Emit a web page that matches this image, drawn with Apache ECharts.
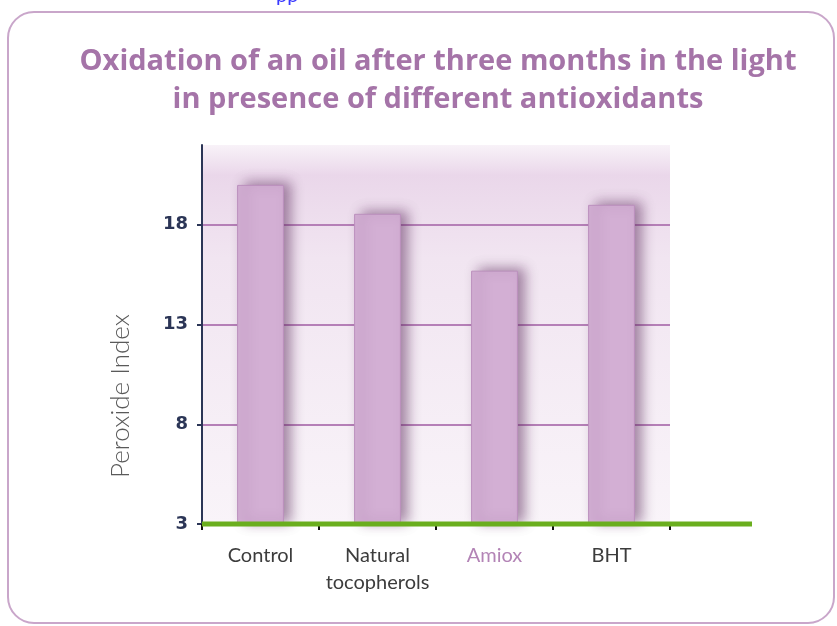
<!DOCTYPE html>
<html>
<head>
<meta charset="utf-8">
<script src="https://cdn.jsdelivr.net/npm/echarts@6/dist/echarts.min.js"></script>
<style>
  html, body { margin: 0; padding: 0; background: #fff; }
  #chart { width: 837px; height: 626px; }
</style>
</head>
<body>
<div id="chart"></div>
<script>
// data
const categories = ['Control', 'Natural\ntocopherols', 'Amiox', 'BHT'];
const peroxide = [20.0, 18.55, 15.7, 19.0];
const yTicks = [3, 8, 13, 18];

const purpleTitle = '#a574a8';
const barColor = '#d3afd4';

let myChart = echarts.init(document.getElementById('chart'));

let option = {
  backgroundColor: '#fff',
  animation: false,
  title: {
    text: 'Oxidation of an oil after three months in the light\nin presence of different antioxidants',
    left: 433,
    top: 38,
    textAlign: 'center',
    textStyle: {
      color: purpleTitle,
      fontFamily: 'Open Sans',
      fontWeight: 'bold',
      fontSize: 29,
      lineHeight: 38
    }
  },
  grid: {
    left: 202,
    right: 167,
    top: 145,
    bottom: 102,
    show: true,
    borderWidth: 0,
    backgroundColor: {
      type: 'linear', x: 0, y: 0, x2: 0, y2: 1,
      colorStops: [
        { offset: 0, color: '#f8f2f8' },
        { offset: 0.08, color: '#ead7ea' },
        { offset: 0.3, color: '#f1e5f1' },
        { offset: 1, color: '#f9f4f9' }
      ]
    }
  },
  xAxis: {
    type: 'category',
    data: categories,
    boundaryGap: true,
    axisLine: { show: false },
    axisTick: {
      show: true,
      interval: 0,
      length: 6,
      lineStyle: { color: '#111', width: 2 }
    },
    axisLabel: {
      interval: 0,
      hideOverlap: false,
      margin: 18,
      fontFamily: 'Lato',
      fontSize: 20,
      lineHeight: 27,
      color: function (v) {
        return v === 'Amiox' ? '#b384b6' : '#3c3c3c';
      }
    }
  },
  yAxis: {
    type: 'value',
    min: 3,
    max: 22,
    interval: 5,
    axisLine: { show: true, lineStyle: { color: '#2b3556', width: 2 } },
    axisTick: {
      show: true,
      length: 5,
      customValues: yTicks,
      lineStyle: { color: '#2b3556', width: 2 }
    },
    axisLabel: {
      margin: 14,
      customValues: yTicks,
      fontFamily: 'DejaVu Sans',
      fontWeight: 'bold',
      fontSize: 18,
      color: '#2b3556'
    },
    splitLine: {
      show: true,
      showMinLine: false,
      lineStyle: { color: '#b57fb7', width: 2 }
    }
  },
  series: [{
    type: 'bar',
    data: peroxide,
    barWidth: '40%',
    z: 3,
    itemStyle: {
      color: barColor,
      borderColor: '#bb90bd',
      borderWidth: 1,
      shadowColor: 'rgba(90,40,90,0.55)',
      shadowBlur: 12,
      shadowOffsetX: 7,
      shadowOffsetY: -2
    }
  }]
};
myChart.setOption(option);

// green baseline runs past the plot, plus frame and y-axis name
let p0 = myChart.convertToPixel({ xAxisIndex: 0, yAxisIndex: 0 }, [0, 3]);
let gridRect = myChart.getModel().getComponent('grid').coordinateSystem.getRect();
myChart.setOption({
  graphic: [
    {
      type: 'rect',
      shape: { x: 8, y: 12, width: 826, height: 611, r: 26 },
      style: { fill: 'none', stroke: '#c9a6ca', lineWidth: 2 },
      z: 0
    },
    {
      type: 'text',
      left: 276, top: -14,
      style: { text: 'pp', fill: '#3a3aff', font: '20px Lato' }
    },
    {
      type: 'line',
      shape: { x1: gridRect.x, y1: p0[1], x2: gridRect.x + gridRect.width + 82, y2: p0[1] },
      style: { stroke: '#6aae1e', lineWidth: 5 },
      z: 10
    },
    {
      type: 'text',
      x: 121, y: 396,
      rotation: Math.PI / 2,
      style: {
        text: 'Peroxide Index',
        fill: '#5a5a5a',
        font: '300 26px Lato',
        align: 'center',
        verticalAlign: 'middle'
      }
    }
  ]
});
</script>
</body>
</html>
